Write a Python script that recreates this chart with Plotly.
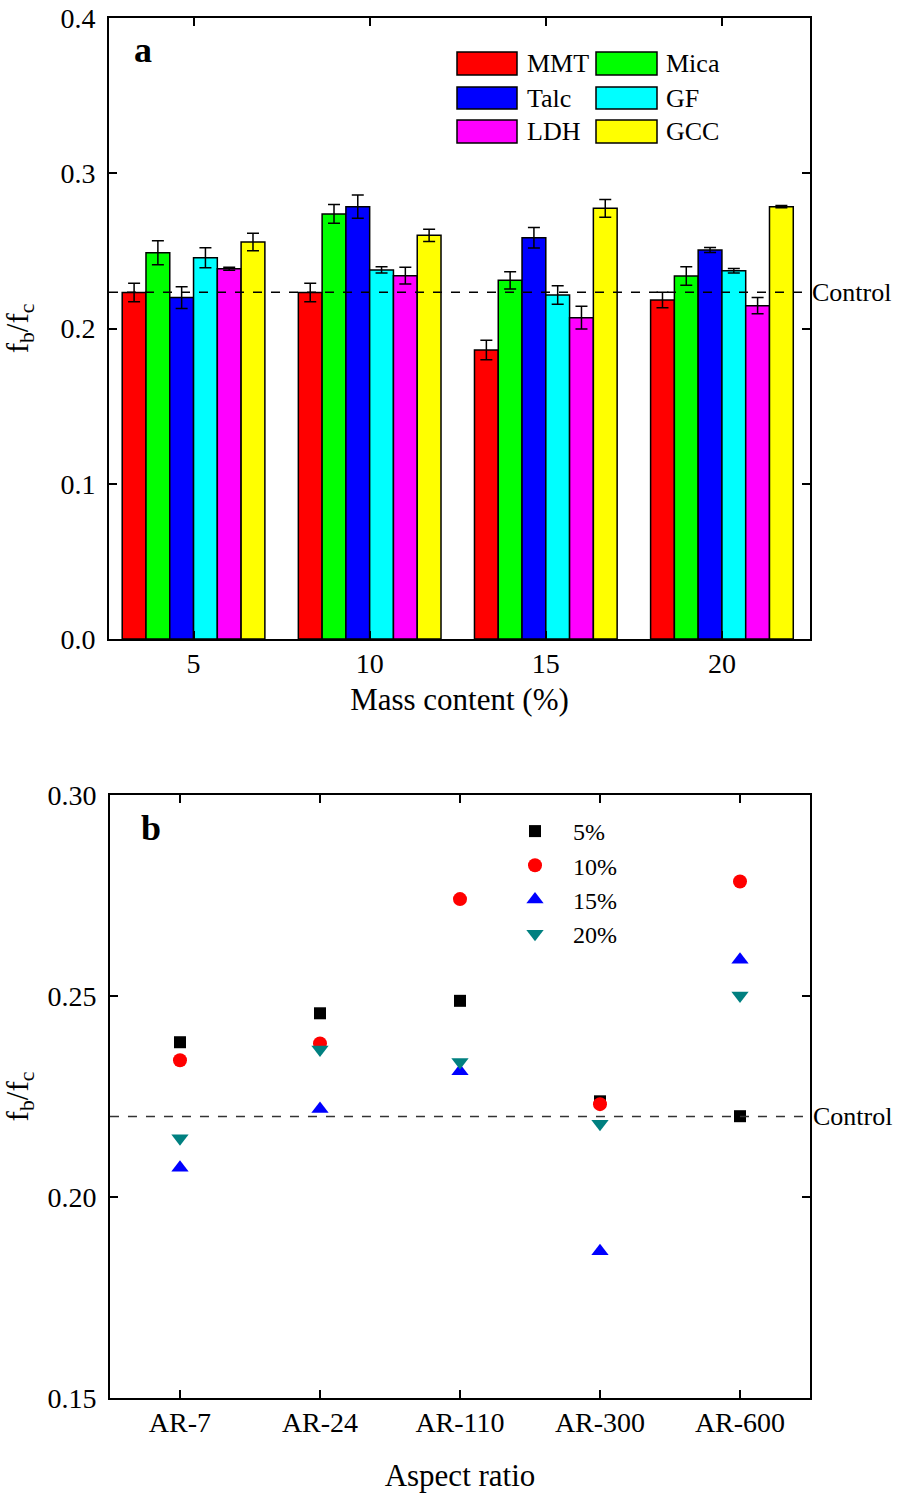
import plotly.graph_objects as go

# ---------------- data ----------------
mass_content = ["5", "10", "15", "20"]
materials = ["MMT", "Mica", "Talc", "GF", "LDH", "GCC"]
colors = ["#FF0000", "#00FF00", "#0000FF", "#00FFFF", "#FF00FF", "#FFFF00"]

mmt_vals = [0.2232, 0.2232, 0.1862, 0.2184]
mica_vals = [0.2488, 0.2738, 0.2310, 0.2338]
talc_vals = [0.2199, 0.2785, 0.2585, 0.2506]
gf_vals = [0.2456, 0.2377, 0.2216, 0.2372]
ldh_vals = [0.2385, 0.2340, 0.2070, 0.2147]
gcc_vals = [0.2557, 0.2600, 0.2774, 0.2785]

mmt_err = [0.0060, 0.0060, 0.0063, 0.0050]
mica_err = [0.0077, 0.0060, 0.0056, 0.0060]
talc_err = [0.0070, 0.0075, 0.0066, 0.0016]
gf_err = [0.0064, 0.0020, 0.0060, 0.0014]
ldh_err = [0.0010, 0.0054, 0.0074, 0.0052]
gcc_err = [0.0056, 0.0039, 0.0057, 0.0008]

control_a = 0.2233

aspect_ratio = ["AR-7", "AR-24", "AR-110", "AR-300", "AR-600"]
series_names = ["5%", "10%", "15%", "20%"]
pct5_vals = [0.2385, 0.2457, 0.2488, 0.2238, 0.2201]
pct10_vals = [0.2340, 0.2382, 0.2741, 0.2231, 0.2785]
pct15_vals = [0.2073, 0.2219, 0.2313, 0.1865, 0.2590]
pct20_vals = [0.2146, 0.2367, 0.2336, 0.2182, 0.2501]
series_colors = ["#000000", "#FF0000", "#0000FF", "#008080"]
series_symbols = ["square", "circle", "triangle-up", "triangle-down"]
series_sizes = [12, 14, 15, 15]

control_b = 0.2200

bar_vals = [mmt_vals, mica_vals, talc_vals, gf_vals, ldh_vals, gcc_vals]
bar_errs = [mmt_err, mica_err, talc_err, gf_err, ldh_err, gcc_err]
pt_vals = [pct5_vals, pct10_vals, pct15_vals, pct20_vals]

# ---------------- layout geometry (page pixels) ----------------
W, H = 898, 1495
PL, PR, PT, PB = 109, 810, 18, 1398   # plot-area edges on the page
ML = PL
MT = PT
PW = PR - PL
PH = PB - PT
MR = W - ML - PW
MB = H - MT - PH

def px(x):
    return (x - PL) / PW

def py(y):
    return (PB - y) / PH

FONT = "Liberation Serif, Times New Roman, serif"

fig = go.Figure()

for name, col, vals, errs in zip(materials, colors, bar_vals, bar_errs):
    fig.add_trace(go.Bar(
        x=mass_content, y=vals, name=name,
        marker=dict(color=col, line=dict(color="black", width=1.5)),
        error_y=dict(type="data", array=errs, color="black", thickness=1.5, width=6),
        xaxis="x", yaxis="y", showlegend=False,
    ))

for name, col, sym, sz, vals in zip(series_names, series_colors, series_symbols, series_sizes, pt_vals):
    fig.add_trace(go.Scatter(
        x=aspect_ratio, y=vals, name=name, mode="markers",
        marker=dict(color=col, symbol=sym, size=sz, line=dict(width=0)),
        xaxis="x2", yaxis="y2", showlegend=True,
    ))

axis_common = dict(
    showline=True, linecolor="black", linewidth=2, mirror="ticks",
    ticks="inside", ticklen=8, tickwidth=2, tickcolor="black",
    showgrid=False, zeroline=False, ticklabeloverflow="allow",
    tickfont=dict(family=FONT, size=28, color="black"),
)

top_y0 = py(639)
bot_y1 = py(795)

fig.update_layout(
    width=W, height=H,
    margin=dict(l=ML, r=MR, t=MT, b=MB, autoexpand=False),
    paper_bgcolor="white", plot_bgcolor="white",
    font=dict(family=FONT, color="black"),
    barmode="group", bargap=0.19, bargroupgap=0,
    xaxis=dict(axis_common, type="category", domain=[0, 1], anchor="y",
               range=[-0.48, 3.5], ticklabelstandoff=-2,
               title=dict(text="Mass content (%)", font=dict(family=FONT, size=31, color="black"), standoff=11)),
    yaxis=dict(axis_common, domain=[top_y0, 1], anchor="x", range=[0, 0.4], dtick=0.1,
               tickformat=".1f", ticklabelstandoff=6,
               title=dict(text="f<sub>b</sub>/f<sub>c</sub>", font=dict(family=FONT, size=31, color="black"), standoff=26)),
    xaxis2=dict(axis_common, type="category", domain=[0.0014, 1], anchor="y2",
                range=[-0.5, 4.5], ticklabelstandoff=-2,
                title=dict(text="Aspect ratio", font=dict(family=FONT, size=31, color="black"), standoff=28)),
    yaxis2=dict(axis_common, domain=[0, bot_y1], anchor="x2", range=[0.15, 0.30], dtick=0.05,
                tickformat=".2f", ticklabelstandoff=6,
                title=dict(text="f<sub>b</sub>/f<sub>c</sub>", font=dict(family=FONT, size=31, color="black"), standoff=12)),
    legend=dict(
        x=px(497), y=py(809), xanchor="left", yanchor="top",
        xref="paper", yref="paper",
        font=dict(family=FONT, size=24, color="black"),
        bgcolor="rgba(0,0,0,0)", borderwidth=0, itemwidth=66,
        tracegroupgap=0,
    ),
)

shapes = []
annotations = []

# control lines
shapes.append(dict(type="line", xref="x domain", yref="y", x0=0, x1=1, y0=control_a, y1=control_a,
                   line=dict(color="black", width=1.5, dash="dash")))
shapes.append(dict(type="line", xref="x2 domain", yref="y2", x0=0, x1=1, y0=control_b, y1=control_b,
                   line=dict(color="#333333", width=1.5, dash="dash")))
annotations.append(dict(text="Control", xref="paper", yref="y", x=px(810), y=control_a,
                        xanchor="left", yanchor="middle", showarrow=False,
                        font=dict(family=FONT, size=26, color="black")))
annotations.append(dict(text="Control", xref="paper", yref="y2", x=px(811), y=control_b,
                        xanchor="left", yanchor="middle", showarrow=False,
                        font=dict(family=FONT, size=26, color="black")))

# panel labels
annotations.append(dict(text="<b>a</b>", xref="paper", yref="paper", x=px(132), y=py(50),
                        xanchor="left", yanchor="middle", showarrow=False,
                        font=dict(family=FONT, size=36, color="black")))
annotations.append(dict(text="<b>b</b>", xref="paper", yref="paper", x=px(139), y=py(828),
                        xanchor="left", yanchor="middle", showarrow=False,
                        font=dict(family=FONT, size=36, color="black")))

# top legend (swatches + labels)
col_x = [(457, 517, 525), (596, 657, 664)]
row_y = [(52, 75), (87, 109), (120, 143)]
for i, (name, col) in enumerate(zip(materials, colors)):
    r, c = divmod(i, 2)
    x0, x1, tx = col_x[c]
    y0, y1 = row_y[r]
    shapes.append(dict(type="rect", xref="paper", yref="paper",
                       x0=px(x0), x1=px(x1), y0=py(y1), y1=py(y0),
                       fillcolor=col, line=dict(color="black", width=1.5)))
    annotations.append(dict(text=name, xref="paper", yref="paper", x=px(tx), y=py((y0 + y1) / 2),
                            xanchor="left", yanchor="middle", showarrow=False,
                            font=dict(family=FONT, size=26, color="black")))

fig.update_layout(shapes=shapes, annotations=annotations)

# remove the page's default body margin so the figure fills the window exactly
fig.write_html("out.html", config={"displayModeBar": False},
               post_script="document.body.style.margin='0';")
